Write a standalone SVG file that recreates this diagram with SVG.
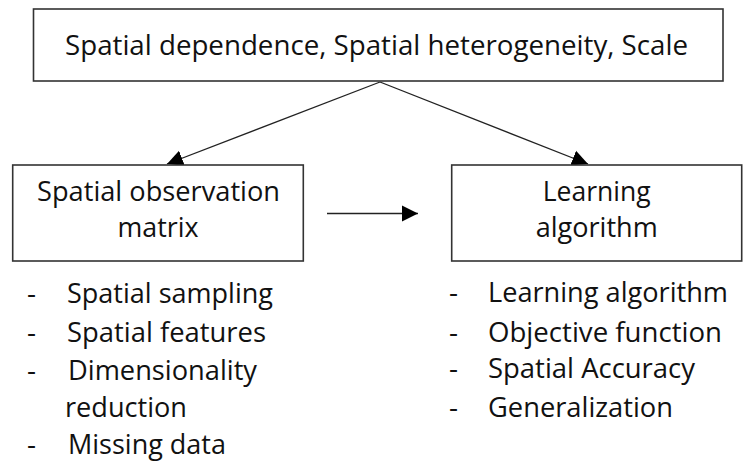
<svg xmlns="http://www.w3.org/2000/svg" width="749" height="471" viewBox="0 0 749 471">
<style>
text{font-family:"Open Sans","Noto Sans","Liberation Sans",sans-serif;font-size:28px;fill:#111}
.box{fill:#fff;stroke:#333;stroke-width:1.6}
.conn{stroke:#222;stroke-width:1.3;fill:none}
</style>
<defs>
<marker id="ah" markerUnits="userSpaceOnUse" markerWidth="17" markerHeight="17" refX="16" refY="8" orient="auto" viewBox="0 0 17 16">
<path d="M0,0 L16,8 L0,16 z" fill="#000"/>
</marker>
</defs>
<rect width="749" height="471" fill="#fff"/>
<g id="connectors">
<line class="conn" x1="380" y1="82" x2="167" y2="164" marker-end="url(#ah)"/>
<line class="conn" x1="380" y1="82" x2="588" y2="164" marker-end="url(#ah)"/>
<line class="conn" x1="327" y1="213.5" x2="418" y2="213.5" marker-end="url(#ah)"/>
</g>
<g id="top">
<rect class="box" x="33.5" y="9" width="689.5" height="72"/>
<text x="65" y="55" textLength="623" lengthAdjust="spacingAndGlyphs">Spatial dependence, Spatial heterogeneity, Scale</text>
</g>
<g id="matrix">
<rect class="box" x="12.7" y="165" width="290.6" height="96"/>
<text x="37" y="201" textLength="243" lengthAdjust="spacingAndGlyphs">Spatial observation</text>
<text x="117.5" y="237" textLength="81" lengthAdjust="spacingAndGlyphs">matrix</text>
</g>
<g id="learning">
<rect class="box" x="451.7" y="165" width="290" height="96"/>
<text x="542.7" y="201" textLength="108" lengthAdjust="spacingAndGlyphs">Learning</text>
<text x="535.7" y="237" textLength="122" lengthAdjust="spacingAndGlyphs">algorithm</text>
</g>
<g id="list-left">
<text x="27" y="303">-</text>
<text x="67" y="303" textLength="206" lengthAdjust="spacingAndGlyphs">Spatial sampling</text>
<text x="27" y="342">-</text>
<text x="67" y="342" textLength="199" lengthAdjust="spacingAndGlyphs">Spatial features</text>
<text x="27" y="380">-</text>
<text x="68" y="380" textLength="189" lengthAdjust="spacingAndGlyphs">Dimensionality</text>
<text x="65" y="417" textLength="122" lengthAdjust="spacingAndGlyphs">reduction</text>
<text x="27" y="454">-</text>
<text x="68" y="454" textLength="158" lengthAdjust="spacingAndGlyphs">Missing data</text>
</g>
<g id="list-right">
<text x="449" y="302">-</text>
<text x="488" y="302" textLength="240" lengthAdjust="spacingAndGlyphs">Learning algorithm</text>
<text x="449" y="342">-</text>
<text x="488" y="342" textLength="234" lengthAdjust="spacingAndGlyphs">Objective function</text>
<text x="449" y="378">-</text>
<text x="488" y="378" textLength="207" lengthAdjust="spacingAndGlyphs">Spatial Accuracy</text>
<text x="449" y="417">-</text>
<text x="488" y="417" textLength="185" lengthAdjust="spacingAndGlyphs">Generalization</text>
</g>
</svg>
